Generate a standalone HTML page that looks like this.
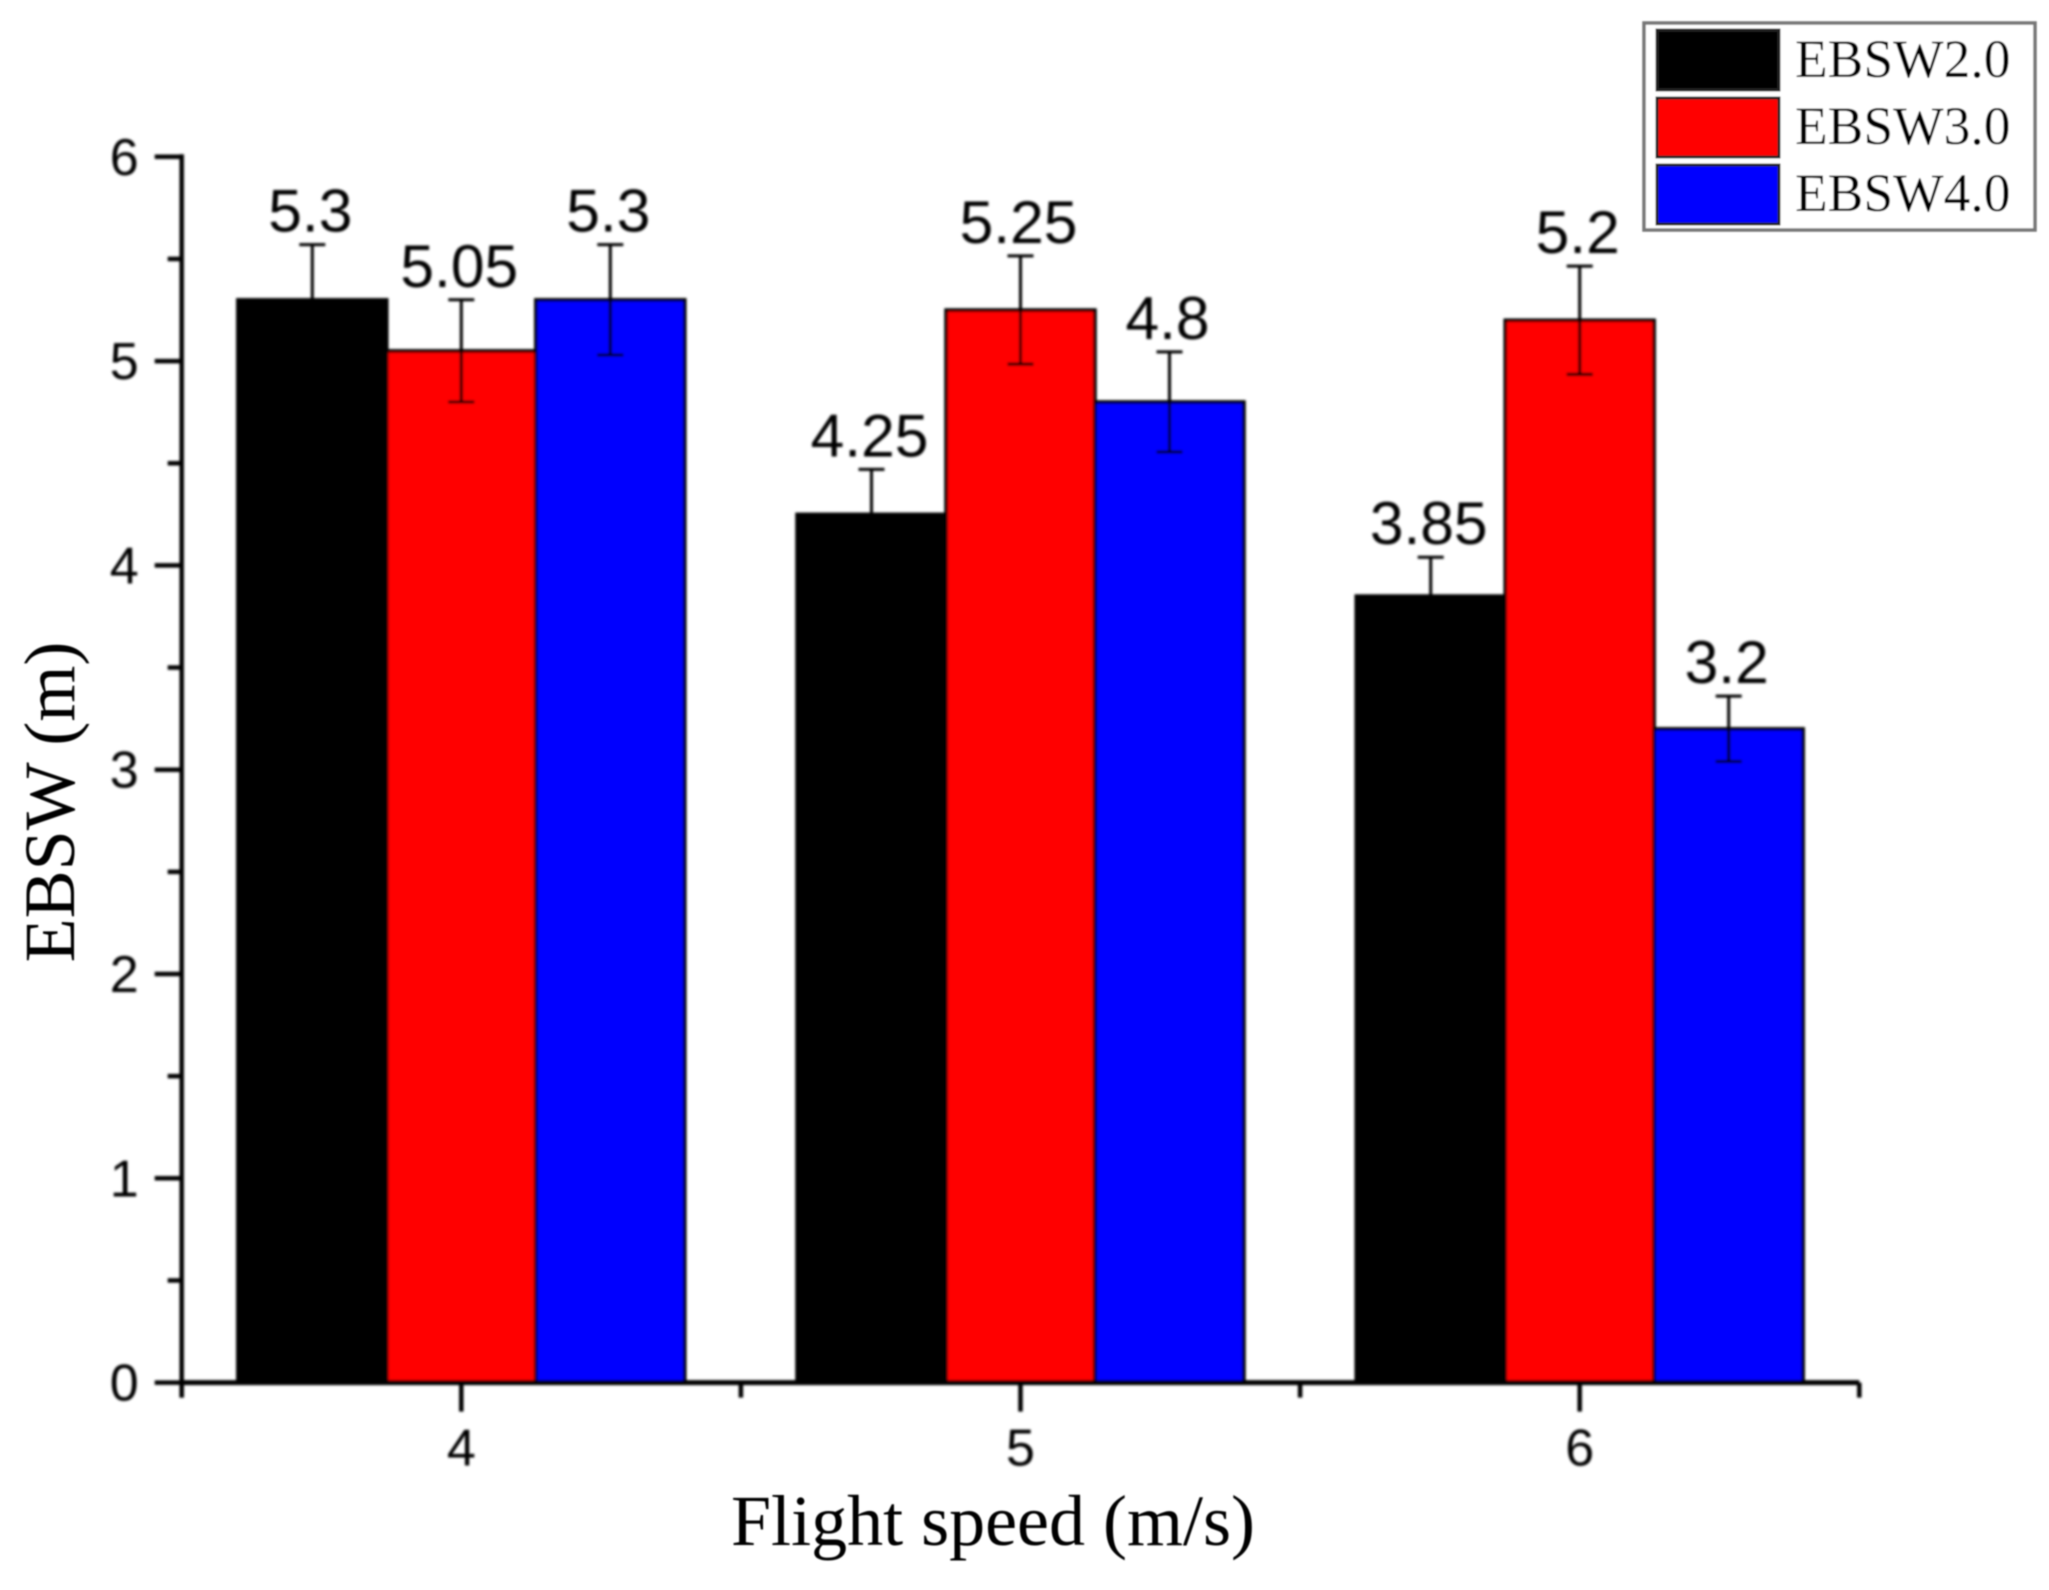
<!DOCTYPE html>
<html>
<head>
<meta charset="utf-8">
<title>EBSW vs flight speed</title>
<style>
html,body{margin:0;padding:0;background:#fff;width:2049px;height:1590px;overflow:hidden}
svg{display:block}
.sans{font-family:"Liberation Sans",Arial,sans-serif;fill:#000}
.serif{font-family:"Liberation Serif","Times New Roman",serif;fill:#000}
</style>
</head>
<body>
<svg id="chart" xmlns="http://www.w3.org/2000/svg" width="2049" height="1590" viewBox="0 0 2049 1590">
  <defs><filter id="soft" x="-5%" y="-5%" width="110%" height="110%"><feGaussianBlur stdDeviation="1.2"/></filter>
  <filter id="soft2" x="-5%" y="-5%" width="110%" height="110%"><feGaussianBlur stdDeviation="0.8"/></filter></defs>
  <rect x="0" y="0" width="2049" height="1590" fill="#fff"/>
  <g id="plot" filter="url(#soft)"></g>
  <g filter="url(#soft2)">
    <rect x="1644" y="23" width="391" height="207" fill="#fff" stroke="#777" stroke-width="3.5"/>
    <rect x="1657" y="30" width="122" height="60" fill="#000" stroke="#222" stroke-width="3"/>
    <rect x="1657" y="98" width="122" height="59" fill="#f00" stroke="#222" stroke-width="3"/>
    <rect x="1657" y="165" width="122" height="59" fill="#00f" stroke="#222" stroke-width="3"/>
    <text class="serif" x="1795" y="77" font-size="53.5">EBSW2.0</text>
    <text class="serif" x="1795" y="144" font-size="53.5">EBSW3.0</text>
    <text class="serif" x="1795" y="211" font-size="53.5">EBSW4.0</text>
  </g>
  <g filter="url(#soft2)">
    <text class="serif" x="993" y="1545" font-size="72" text-anchor="middle">Flight speed (m/s)</text>
    <text class="serif" transform="translate(74,802) rotate(-90)" font-size="72" text-anchor="middle">EBSW (m)</text>
  </g>
</svg>
<script>
const categories = [4, 5, 6];
const ebsw2 = [5.3, 4.25, 3.85];
const ebsw3 = [5.05, 5.25, 5.2];
const ebsw4 = [5.3, 4.8, 3.2];
const ebsw2Err = [0.27, 0.22, 0.19];
const ebsw3Err = [0.25, 0.265, 0.265];
const ebsw4Err = [0.27, 0.245, 0.16];
const ebsw2Labels = ["5.3", "4.25", "3.85"];
const ebsw3Labels = ["5.05", "5.25", "5.2"];
const ebsw4Labels = ["5.3", "4.8", "3.2"];
const yTicks = [0, 1, 2, 3, 4, 5, 6];
const yMinorTicks = [0.5, 1.5, 2.5, 3.5, 4.5, 5.5];
const xMinorTicks = [3.5, 4.5, 5.5, 6.5];

const NS = 'http://www.w3.org/2000/svg';
const plot = document.getElementById('plot');
const xOf = v => 461.3 + (v - 4) * 559.2;
const yOf = v => 1382.6 - v * 204.3;
const barW = 149;

function mk(tag, props) {
  const el = document.createElementNS(NS, tag);
  for (const k in props) el.setAttribute(k, props[k]);
  plot.appendChild(el);
  return el;
}
function line(x1, y1, x2, y2, w, c) {
  return mk('line', {x1, y1, x2, y2, stroke: c || '#000', 'stroke-width': w});
}
function label(x, y, s, size, anchor) {
  const t = mk('text', {x, y, 'font-size': size, 'text-anchor': anchor, class: 'sans'});
  t.textContent = s;
  return t;
}

const seriesKeys = ['ebsw2', 'ebsw3', 'ebsw4'];
const seriesVals = [ebsw2, ebsw3, ebsw4];
const seriesErrs = [ebsw2Err, ebsw3Err, ebsw4Err];
const seriesLabs = [ebsw2Labels, ebsw3Labels, ebsw4Labels];
const seriesFill = ['#000', '#f00', '#00f'];

seriesVals.forEach((vals, s) => {
  vals.forEach((v, i) => {
    const cx = xOf(categories[i]) + (s - 1) * barW;
    const b = mk('rect', {x: cx - barW / 2, y: yOf(v), width: barW, height: yOf(0) - yOf(v), fill: seriesFill[s], stroke: '#000', 'stroke-width': 3.5});
    
    
  });
});

const xAxis = line(xOf(3.5), yOf(0), xOf(6.5), yOf(0), 5);


const yAxis = line(xOf(3.5), yOf(6) - 2.5, xOf(3.5), yOf(0) + 15, 4.5);



yTicks.forEach(v => {
  const t = line(xOf(3.5) - 27, yOf(v), xOf(3.5), yOf(v), 4.5);
  
  
  const l = label(xOf(3.5) - 43, yOf(v) + 18, String(v), 52, 'end');
  
  
});
yMinorTicks.forEach(v => {
  const t = line(xOf(3.5) - 14, yOf(v), xOf(3.5), yOf(v), 4.5);
  
  
});
categories.forEach(v => {
  const t = line(xOf(v), yOf(0), xOf(v), yOf(0) + 29, 4.5);
  
  
  const l = label(xOf(v), yOf(0) + 83, String(v), 52, 'middle');
  
  
});
xMinorTicks.forEach(v => {
  const t = line(xOf(v), yOf(0), xOf(v), yOf(0) + 15, 4.5);
  
  
});

seriesVals.forEach((vals, s) => {
  vals.forEach((v, i) => {
    const cx = xOf(categories[i]) + (s - 1) * barW;
    const e = seriesErrs[s][i];
    const top = yOf(v + e), bot = yOf(v - e);
    const stem = line(cx, top, cx, bot, 3);
    
    
    const capT = line(cx - 13, top, cx + 13, top, 3);
    
    
    const capB = line(cx - 13, bot, cx + 13, bot, 3);
    
    
    const dl = label(cx - 2, top - 13, seriesLabs[s][i], 60.5, 'middle');
    
    
  });
});
</script>
</body>
</html>
